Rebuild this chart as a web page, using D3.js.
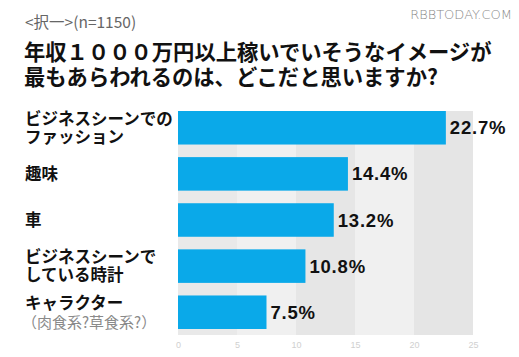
<!DOCTYPE html>
<html><head><meta charset="utf-8">
<script src="https://cdn.jsdelivr.net/npm/d3@7"></script>
<style>
html,body{margin:0;padding:0;background:#fff;}
svg{display:block;}
</style></head>
<body>
<svg id="chart" width="519" height="357"></svg>
<script>
const categories = [
  ["ビジネスシーンでの", "ファッション"],
  ["趣味"],
  ["車"],
  ["ビジネスシーンで", "している時計"],
  ["キャラクター"]
];
const subLabels = ["", "", "", "", "（肉食系?草食系?）"];
const values = [22.7, 14.4, 13.2, 10.8, 7.5];
const valueLabels = ["22.7%", "14.4%", "13.2%", "10.8%", "7.5%"];
const tickValues = [0, 5, 10, 15, 20, 25];
const subtitle = "<択一>(n=1150)";
const titleLines = ["年収１０００万円以上稼いでいそうなイメージが", "最もあらわれるのは、どこだと思いますか?"];
const source = "RBBTODAY.COM";

const svg = d3.select("#chart");
const jp = "'Noto Sans CJK JP', sans-serif";
const ids = d3.range(values.length);

const x = d3.scaleLinear().domain([0, 25]).range([178, 473]);
const y = d3.scaleBand().domain(ids).range([111, 329]).paddingInner(0.273).paddingOuter(0);

// background bands
const bandColors = ["#e9e9e9", "#f0f0f0", "#e6e6e6", "#f0f0f0", "#e5e5e5"];
svg.append("g").selectAll("rect").data(d3.range(5)).join("rect")
  .attr("x", i => x(i * 5)).attr("width", i => x((i + 1) * 5) - x(i * 5))
  .attr("y", 111).attr("height", 335 - 111)
  .attr("fill", (d, i) => bandColors[i]);

// bars
svg.append("g").selectAll("rect").data(ids).join("rect")
  .attr("x", x(0)).attr("y", i => y(i))
  .attr("width", i => x(values[i]) - x(0))
  .attr("height", y.bandwidth())
  .attr("fill", "#0aa9e9");

// value labels
svg.append("g").selectAll("text").data(ids).join("text")
  .attr("x", i => x(values[i]) + 4)
  .attr("y", i => y(i) + y.bandwidth() / 2 + 6.5)
  .attr("font-family", "'Liberation Sans', Arial, sans-serif")
  .attr("font-weight", "bold").attr("font-size", 18.5)
  .attr("letter-spacing", 0.8)
  .attr("fill", "#111")
  .text(i => valueLabels[i]);

// x axis tick labels
const axis = d3.axisBottom(x).tickValues(tickValues).tickSize(0).tickPadding(0);
const ax = svg.append("g").attr("transform", "translate(0,342)").call(axis);
ax.select(".domain").remove();
ax.selectAll("text").attr("fill", "#d0d0d0").attr("font-size", 9)
  .attr("font-family", "'Liberation Sans', Arial, sans-serif");

// category labels
const lab = svg.append("g");
ids.forEach(i => {
  const lines = categories[i];
  const cy = y(i) + y.bandwidth() / 2;
  const lh = 18.5;
  const hasSub = subLabels[i] !== "";
  const n = lines.length + (hasSub ? 1 : 0);
  const start = cy - (n - 1) * lh / 2;
  const t = lab.append("text").attr("font-family", jp).attr("font-size", 16.5);
  lines.forEach((s, k) => {
    t.append("tspan").attr("x", 25).attr("y", start + k * lh + 6)
      .attr("font-weight", "bold").attr("fill", "#111").text(s);
  });
  if (hasSub) {
    t.append("tspan").attr("x", 22).attr("y", start + lines.length * lh + 7)
      .attr("font-size", 15).attr("fill", "#8a8a8a").text(subLabels[i]);
  }
});

// titles
svg.append("text").attr("x", 25).attr("y", 28)
  .attr("font-family", jp).attr("font-size", 15.5).attr("fill", "#666")
  .text(subtitle);
const tt = svg.append("text").attr("font-family", jp).attr("font-weight", "bold")
  .attr("font-size", 21.3).attr("fill", "#111");
titleLines.forEach((s, k) => {
  tt.append("tspan").attr("x", 24).attr("y", 60 + k * 25).text(s);
});
svg.append("text").attr("x", 512).attr("y", 19).attr("text-anchor", "end")
  .attr("font-family", "'DejaVu Sans', sans-serif").attr("font-weight", 200)
  .attr("font-size", 13).attr("fill", "#888").text(source);
</script>
</body></html>
